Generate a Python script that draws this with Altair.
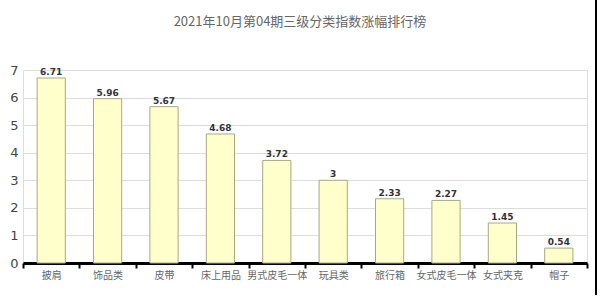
import altair as alt
import pandas as pd

categories = ["披肩", "饰品类", "皮带", "床上用品", "男式皮毛一体", "玩具类", "旅行箱", "女式皮毛一体", "女式夹克", "帽子"]
values = [6.71, 5.96, 5.67, 4.68, 3.72, 3, 2.33, 2.27, 1.45, 0.54]
labels = ["6.71", "5.96", "5.67", "4.68", "3.72", "3", "2.33", "2.27", "1.45", "0.54"]
title_text = "2021年10月第04期三级分类指数涨幅排行榜"

df = pd.DataFrame({"cat": categories, "val": values, "lab": labels})

x_enc = alt.X("cat:N", sort=categories, title=None,
              scale=alt.Scale(paddingInner=0, paddingOuter=0),
              axis=alt.Axis(labelAngle=0, labelFont="Noto Sans CJK SC", labelFontSize=10,
                            labelColor="#666666", domainColor="#000000", domainWidth=3,
                            tickColor="#000000", tickWidth=2, tickSize=5, tickBand="extent",
                            labelPadding=2, grid=False))
y_enc = alt.Y("val:Q", title=None,
              scale=alt.Scale(domain=[0, 7], nice=False),
              axis=alt.Axis(values=[0, 1, 2, 3, 4, 5, 6, 7], domain=False, ticks=False,
                            labelFont="DejaVu Sans", labelFontSize=13, labelColor="#444444",
                            labelPadding=5, gridColor="#dddddd", gridWidth=1,
                            labelOverlap=False))

base = alt.Chart(df)
bars = base.mark_bar(fill="#FFFFCC", stroke="#A8A880", strokeWidth=1,
                     width=alt.RelativeBandSize(0.5)).encode(x=x_enc, y=y_enc)
text = base.mark_text(dy=-6, fontSize=9, fontWeight="bold", font="DejaVu Sans",
                      color="#333333").encode(x=x_enc, y=y_enc, text="lab:N")

title_df = pd.DataFrame({"t": [title_text]})
title = alt.Chart(title_df).mark_text(font="Noto Sans CJK SC", fontSize=13, color="#666666",
                                      align="center", baseline="middle").encode(
    x=alt.value(277), y=alt.value(-48), text="t:N")

border_df = pd.DataFrame({"k": [0]})
border = alt.Chart(border_df).mark_rule(color="#000000", strokeWidth=2).encode(
    x=alt.value(573), y=alt.value(-70), y2=alt.value(225))

chart = alt.layer(bars, text, title, border).properties(
    width=564, height=193,
    autosize=alt.AutoSizeParams(type="none"),
    padding={"left": 23, "top": 70, "right": 13, "bottom": 32},
).configure_view(stroke=None).configure(background="#ffffff")

chart.save("out.html", embed_options={"renderer": "svg", "actions": False})
